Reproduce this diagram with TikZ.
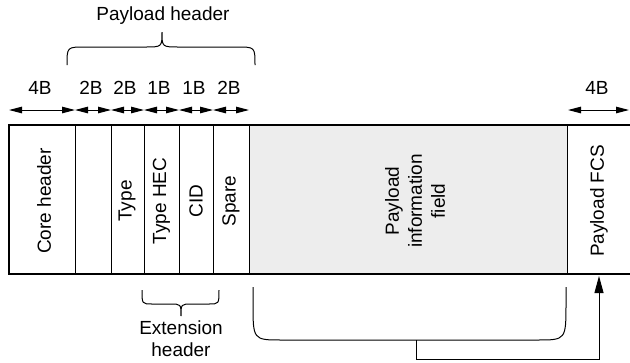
\documentclass[tikz,border=0pt]{standalone}
\usepackage{fontspec}
\setmainfont{Liberation Sans}
\usetikzlibrary{arrows.meta}
\definecolor{infogray}{HTML}{EDEDED}
\begin{document}
\begin{tikzpicture}[x=1pt,y=-1pt,
  txt/.style={font=\fontsize{19}{22}\selectfont, inner sep=0pt, align=center},
  vtxt/.style={txt, rotate=90},
  frameline/.style={line width=2pt},
  divline/.style={line width=0.9pt},
  dimarrow/.style={line width=1pt, {Triangle[length=13pt,width=6.5pt]}-{Triangle[length=13pt,width=6.5pt]}},
  curveline/.style={line width=1pt},
]
\useasboundingbox (0,0) rectangle (630,362);
% payload information field background
\fill[infogray] (249,125) rectangle (567,274);
% dividers
\foreach \x in {75,111,144,179,213,249,567}
  \draw[divline] (\x,125) -- (\x,274);
% frame
\draw[frameline] (630,125) -- (9,125) -- (9,274) -- (630,274);
% cell texts
\node[vtxt] (core) at (44,201) {Core header};
\node[vtxt] (type) at (127,201) {Type};
\node[vtxt] (typehec) at (161.5,201) {Type HEC};
\node[vtxt] (cid) at (196,201) {CID};
\node[vtxt] (spare) at (231,201) {Spare};
\node[vtxt, font=\fontsize{19}{23}\selectfont] (info) at (415,201) {Payload\\information\\field};
\node[vtxt] (fcs) at (599,201) {Payload FCS};
% dimension arrows
\foreach \n/\x in {0/9,1/75,2/111,3/144,4/179,5/213,6/249}
  \coordinate (a\n) at (\x,110);
\coordinate (r0) at (568,110);
\coordinate (r1) at (629,110);
\draw[dimarrow] (a0) -- (a1);
\draw[dimarrow] (a1) -- (a2);
\draw[dimarrow] (a2) -- (a3);
\draw[dimarrow] (a3) -- (a4);
\draw[dimarrow] (a4) -- (a5);
\draw[dimarrow] (a5) -- (a6);
\draw[dimarrow] (r0) -- (r1);
% dimension labels
\node[txt] (l0) at (40,88) {4B};
\node[txt] (l1) at (91,88) {2B};
\node[txt] (l2) at (125,88) {2B};
\node[txt] (l3) at (159,88) {1B};
\node[txt] (l4) at (194,88) {1B};
\node[txt] (l5) at (229,88) {2B};
\node[txt] (l6) at (597,88) {4B};
% payload header brace
\draw[curveline] (67,65) .. controls (67,47) .. (85,47) -- (145,47)
  .. controls (162,47) .. (162,32) .. controls (162,47) .. (179,47)
  -- (237,47) .. controls (255,47) .. (255,65);
\node[txt] (phdr) at (163,16) {Payload header};
% extension header brace
\draw[curveline] (142,290) .. controls (142,304) .. (152,304) -- (170,304)
  .. controls (181,304) .. (181,316) .. controls (181,304) .. (192,304)
  -- (209,304) .. controls (219,304) .. (219,290);
\node[txt] (ehdr) at (181,339) {Extension\\header};
% bracket under payload information field
\draw[curveline] (253,287) -- (253,303) .. controls (253,340) .. (282,340)
  -- (537,340) .. controls (566,340) .. (566,303) -- (566,287);
\coordinate (brmid) at (416,340);
\coordinate (fcsin) at (599,276);
\draw[line width=1pt, -{Triangle[length=17pt,width=9pt]}] (brmid) -- (416,359) -| (fcsin);
\end{tikzpicture}
\end{document}
